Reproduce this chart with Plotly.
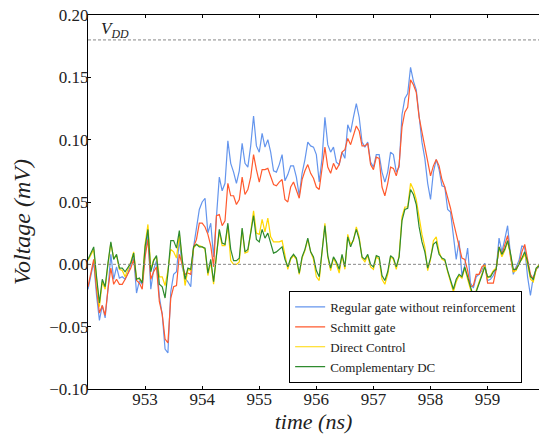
import numpy as np
import plotly.graph_objects as go

t_start = 952.0
t_step = 0.05
n_points = 159
time_ns = np.round(t_start + t_step * np.arange(n_points), 2)

regular = [
    -0.020, -0.008, 0.002, -0.025, -0.045, -0.033, -0.043, -0.020, 0.008, -0.012,
    -0.002, -0.011, -0.010, -0.012, -0.007, 0.000, 0.006, -0.023, -0.013, -0.016,
    0.009, 0.025, -0.020, -0.004, 0.003, -0.026, -0.040, -0.068, -0.071, -0.022,
    -0.008, -0.006, 0.020, -0.002, -0.011, -0.014, -0.018, 0.014, 0.028, 0.044,
    0.050, 0.053, 0.025, 0.033, 0.006, 0.039, 0.070, 0.059, 0.065, 0.099,
    0.081, 0.074, 0.065, 0.075, 0.097, 0.081, 0.078, 0.095, 0.119, 0.095,
    0.090, 0.105, 0.094, 0.100, 0.090, 0.075, 0.074, 0.080, 0.088, 0.067,
    0.072, 0.079, 0.079, 0.070, 0.055, 0.073, 0.084, 0.098, 0.095, 0.094,
    0.088, 0.066, 0.085, 0.118, 0.096, 0.090, 0.094, 0.082, 0.080, 0.090,
    0.085, 0.112, 0.106, 0.118, 0.129, 0.118, 0.098, 0.094, 0.098, 0.082,
    0.078, 0.088, 0.088, 0.074, 0.066, 0.074, 0.090, 0.088, 0.074, 0.078,
    0.120, 0.133, 0.137, 0.158, 0.147, 0.140, 0.118, 0.098, 0.085, 0.065,
    0.052, 0.074, 0.084, 0.076, 0.063, 0.062, 0.044, 0.042, 0.023, 0.004,
    0.019, -0.009, -0.001, 0.013, -0.015, -0.019, -0.010, -0.008, -0.005, 0.001,
    -0.013, -0.012, -0.009, -0.004, 0.021, 0.010, 0.020, 0.031, 0.008, -0.008,
    -0.002, 0.003, 0.015, 0.013, -0.010, -0.025, -0.010, -0.004, -0.002,
]

schmitt = [
    -0.018, -0.006, 0.004, -0.020, -0.039, -0.033, -0.041, -0.020, -0.003, -0.016,
    -0.012, -0.016, -0.016, -0.012, -0.007, -0.003, 0.004, -0.013, -0.015, -0.020,
    0.006, 0.020, -0.012, -0.006, -0.002, -0.030, -0.040, -0.060, -0.063, -0.027,
    -0.018, -0.017, 0.008, 0.000, -0.008, -0.007, -0.008, 0.014, 0.020, 0.033,
    0.033, 0.030, 0.024, 0.015, -0.002, 0.039, 0.040, 0.031, 0.035, 0.065,
    0.055, 0.055, 0.048, 0.052, 0.070, 0.056, 0.060, 0.070, 0.088, 0.076,
    0.066, 0.076, 0.076, 0.077, 0.070, 0.064, 0.063, 0.066, 0.068, 0.052,
    0.050, 0.062, 0.066, 0.060, 0.053, 0.068, 0.075, 0.080, 0.073, 0.069,
    0.062, 0.060, 0.078, 0.094, 0.078, 0.073, 0.081, 0.076, 0.080, 0.090,
    0.092, 0.101, 0.096, 0.104, 0.111, 0.107, 0.095, 0.095, 0.097, 0.080,
    0.076, 0.086, 0.085, 0.062, 0.055, 0.065, 0.078, 0.077, 0.071, 0.080,
    0.110, 0.122, 0.126, 0.148, 0.144, 0.138, 0.118, 0.106, 0.094, 0.080,
    0.071, 0.079, 0.084, 0.079, 0.068, 0.062, 0.054, 0.045, 0.034, 0.025,
    0.015, 0.005, 0.004, -0.005, -0.018, -0.017, -0.008, -0.008, -0.002, 0.000,
    -0.015, -0.015, -0.015, -0.004, 0.014, 0.008, 0.015, 0.023, 0.006, -0.006,
    -0.003, 0.000, 0.010, 0.016, 0.004, -0.008, -0.012, -0.004, -0.001,
]

direct = [
    0.003, 0.008, 0.012, -0.012, -0.034, -0.014, -0.020, 0.000, 0.017, 0.005,
    0.007, -0.004, -0.005, -0.010, -0.004, 0.002, 0.010, -0.011, -0.012, -0.014,
    0.016, 0.032, -0.004, 0.004, 0.006, -0.010, -0.010, -0.017, -0.005, 0.012,
    0.010, 0.005, 0.024, 0.002, -0.017, -0.004, -0.005, 0.013, 0.016, 0.015,
    0.014, 0.012, -0.009, 0.002, -0.016, 0.007, 0.026, 0.015, 0.015, 0.031,
    0.003, 0.000, 0.000, 0.002, 0.028, 0.009, 0.010, 0.026, 0.043, 0.025,
    0.024, 0.036, 0.026, 0.037, 0.022, 0.018, 0.018, 0.018, 0.019, 0.006,
    -0.004, 0.004, 0.007, 0.004, -0.008, 0.005, 0.011, 0.020, 0.010, 0.004,
    -0.010, -0.013, 0.008, 0.033, 0.006, -0.005, 0.005, 0.000, -0.007, 0.007,
    -0.004, 0.024, 0.016, 0.019, 0.030, 0.022, 0.005, 0.002, 0.007, -0.002,
    -0.004, 0.006, 0.004, -0.012, -0.016, -0.008, 0.006, 0.004, -0.004, 0.007,
    0.038, 0.046, 0.046, 0.065, 0.060, 0.052, 0.038, 0.024, 0.014, -0.005,
    0.004, 0.019, 0.022, 0.010, 0.004, 0.003, -0.006, -0.014, -0.022, -0.014,
    -0.009, -0.011, -0.003, -0.012, -0.020, -0.028, -0.021, -0.014, -0.008, -0.001,
    -0.011, -0.009, -0.005, -0.003, 0.013, 0.006, 0.011, 0.018, 0.008, -0.006,
    -0.005, 0.001, 0.004, 0.008, 0.000, -0.012, -0.014, -0.004, 0.000,
]

complementary = [
    0.004, 0.009, 0.014, -0.010, -0.031, -0.012, -0.018, 0.001, 0.018, 0.004,
    0.008, -0.003, -0.003, -0.006, -0.002, 0.001, 0.009, -0.012, -0.011, -0.015,
    0.014, 0.028, -0.006, 0.003, 0.007, -0.016, -0.018, -0.027, -0.007, 0.019,
    0.019, 0.013, 0.027, 0.004, -0.012, -0.003, -0.004, 0.014, 0.016, 0.014,
    0.014, 0.013, -0.007, 0.004, -0.014, 0.009, 0.028, 0.017, 0.016, 0.033,
    0.012, 0.003, 0.003, 0.005, 0.029, 0.010, 0.012, 0.025, 0.039, 0.020,
    0.018, 0.028, 0.021, 0.025, 0.016, 0.009, 0.010, 0.012, 0.014, 0.004,
    -0.002, 0.005, 0.008, 0.005, -0.007, 0.006, 0.012, 0.021, 0.010, 0.006,
    -0.005, -0.010, 0.010, 0.031, 0.007, -0.003, 0.006, 0.002, -0.004, 0.008,
    -0.002, 0.022, 0.014, 0.020, 0.028, 0.020, 0.006, 0.004, 0.008, 0.000,
    -0.002, 0.007, 0.006, -0.009, -0.013, -0.006, 0.007, 0.005, -0.002, 0.006,
    0.035, 0.044, 0.045, 0.060, 0.056, 0.048, 0.030, 0.018, 0.010, -0.003,
    0.005, 0.016, 0.018, 0.008, 0.005, 0.004, -0.005, -0.012, -0.020, -0.012,
    -0.008, -0.010, -0.002, -0.010, -0.018, -0.026, -0.022, -0.016, -0.009, -0.002,
    -0.010, -0.010, -0.006, -0.004, 0.014, 0.008, 0.012, 0.019, 0.009, -0.004,
    -0.004, 0.000, 0.005, 0.010, 0.002, -0.010, -0.012, -0.003, -0.001,
]

series_names = ["Regular gate without reinforcement", "Schmitt gate",
                "Direct Control", "Complementary DC"]
series_colors = ["#6495ED", "#FF5A2E", "#FFD700", "#2E8B2E"]
series_values = [regular, schmitt, direct, complementary]

vdd_level = 0.18
zero_level = 0.0
x_range = [952.0, 959.9]
y_range = [-0.10, 0.20]
x_ticks = [953, 954, 955, 956, 957, 958, 959]
y_ticks = [-0.10, -0.05, 0.00, 0.05, 0.10, 0.15, 0.20]

serif = "Liberation Serif"

fig = go.Figure()
for name, col, vals in zip(series_names, series_colors, series_values):
    fig.add_trace(go.Scatter(x=time_ns, y=vals, mode="lines", name=name,
                             line=dict(color=col, width=1.2)))

for lvl in (vdd_level, zero_level):
    fig.add_shape(type="line", xref="paper", x0=0, x1=1, yref="y", y0=lvl, y1=lvl,
                  line=dict(color="#888888", width=1, dash="3px,2px"), layer="above")

fig.add_annotation(x=952.2, y=vdd_level, xref="x", yref="y",
                   text="<i>V</i><sub><i>DD</i></sub>", showarrow=False,
                   xanchor="left", yanchor="bottom", yshift=-3,
                   font=dict(family=serif, size=17, color="#222"))

# y-axis title placed as an annotation so its position can match the reference
fig.add_annotation(x=-0.146, y=0.447, xref="paper", yref="paper",
                   text="<i>Voltage (mV)</i>", showarrow=False, textangle=-90,
                   xanchor="center", yanchor="middle",
                   font=dict(family=serif, size=24, color="#222"))

fig.update_layout(
    width=539, height=437,
    margin=dict(l=88, r=0, t=15, b=48),
    paper_bgcolor="white", plot_bgcolor="white",
    font=dict(family=serif, size=17, color="#222"),
    showlegend=True,
    legend=dict(x=0.446, y=0.016, xanchor="left", yanchor="bottom",
                bgcolor="white", bordercolor="black", borderwidth=1,
                font=dict(family=serif, size=13, color="#222"),
                tracegroupgap=0, itemwidth=30),
    xaxis=dict(range=x_range, tickvals=x_ticks, ticktext=[str(v) for v in x_ticks],
               showgrid=False, zeroline=False, showline=True, linecolor="black",
               linewidth=1, mirror="ticks", ticks="inside", ticklen=3,
               tickcolor="black", ticklabelstandoff=-5,
               title=dict(text="<i>time (ns)</i>", standoff=4,
                          font=dict(family=serif, size=22))),
    yaxis=dict(range=y_range, tickvals=y_ticks, tickformat=".2f",
               showgrid=False, zeroline=False, showline=True, linecolor="black",
               linewidth=1, mirror=False, ticks="inside", ticklen=3,
               tickcolor="black", ticklabelstandoff=-5),
)

fig.write_html("out.html", config={"displayModeBar": False},
               post_script="document.body.style.margin='0';document.body.style.padding='0';")
